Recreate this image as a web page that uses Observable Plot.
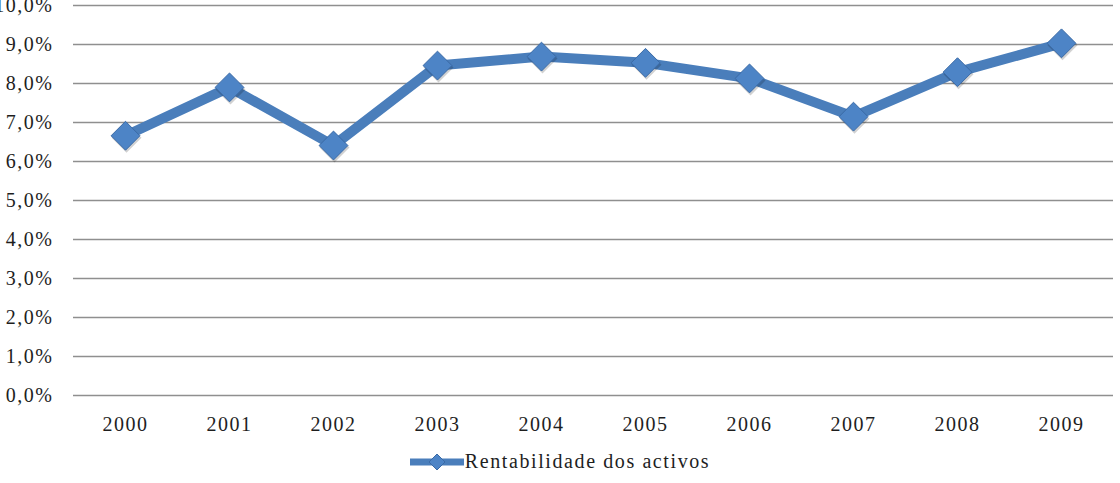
<!DOCTYPE html>
<html>
<head>
<meta charset="utf-8">
<script src="https://cdn.jsdelivr.net/npm/d3@7"></script>
<script src="https://cdn.jsdelivr.net/npm/@observablehq/plot@0.6"></script>
<style>
  html, body { margin: 0; padding: 0; background: #fff; }
  #legend { display: flex; justify-content: center; align-items: center; height: 43px;
            font-family: "Liberation Serif", serif; font-size: 20px; letter-spacing: 1.6px; color: #1e1e1e; }
  #legend svg { margin-right: 1px; }
</style>
</head>
<body>
<div id="chart"></div>
<div id="legend"></div>
<script>
const years = ["2000","2001","2002","2003","2004","2005","2006","2007","2008","2009"];
const values = [6.66, 7.90, 6.41, 8.46, 8.69, 8.53, 8.13, 7.15, 8.29, 9.03];
const yTicks = [0,1,2,3,4,5,6,7,8,9,10];
const seriesName = "Rentabilidade dos activos";

const data = years.map((y, i) => ({year: y, value: values[i]}));
const fmt = d => d.toFixed(1).replace(".", ",") + "%";
const blue = "#4a7ebb";

const chart = Plot.plot({
  width: 1120,
  height: 440,
  marginLeft: 73,
  marginRight: 7,
  marginTop: 5,
  marginBottom: 45,
  style: {fontFamily: "Liberation Serif, serif", fontSize: "20px", color: "#1e1e1e", letterSpacing: "1.5px", background: "#fff"},
  x: {type: "point", domain: years, padding: 0.5, label: null},
  y: {domain: [0, 10], label: null},
  marks: [
    Plot.gridY(yTicks, {stroke: "#8f8f8f", strokeOpacity: 1, strokeWidth: 1.6}),
    Plot.axisY(yTicks, {tickSize: 0, tickPadding: 20, tickFormat: fmt, fontSize: 20}),
    Plot.axisX(years, {tickSize: 0, tickPadding: 21, fontSize: 20}),
    Plot.line(data, {x: "year", y: "value", stroke: blue, strokeWidth: 10, strokeLinejoin: "round"}),
    Plot.dot(data, {x: "year", y: "value", symbol: "diamond2", r: 13.5, fill: "#000", fillOpacity: 0.18, dx: 1, dy: 2}),
    Plot.dot(data, {x: "year", y: "value", symbol: "diamond2", r: 13, fill: "#4d84c6", stroke: "#3a6aa6", strokeWidth: 1})
  ]
});
document.getElementById("chart").appendChild(chart);

const legend = document.getElementById("legend");
legend.innerHTML = `<svg width="54" height="20" viewBox="0 0 54 20">
  <line x1="0" y1="10" x2="54" y2="10" stroke="${blue}" stroke-width="7" stroke-linecap="round"/>
  <path d="M27,2 L35,10 L27,18 L19,10 Z" fill="#4d84c6" stroke="#3a6aa6" stroke-width="1"/>
</svg><span></span>`;
legend.querySelector("span").textContent = seriesName;
</script>
</body>
</html>
